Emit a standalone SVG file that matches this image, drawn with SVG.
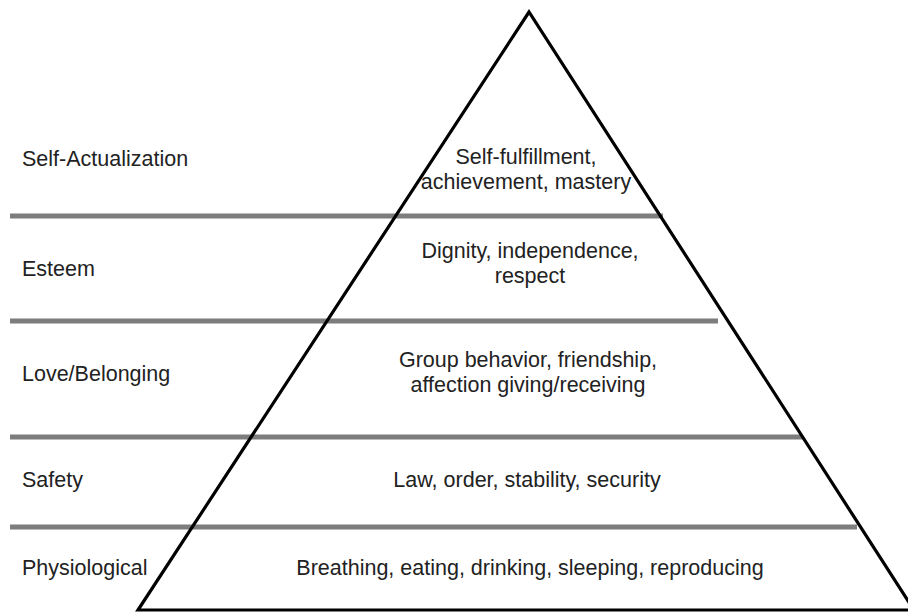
<svg xmlns="http://www.w3.org/2000/svg" width="908" height="613" viewBox="0 0 908 613">
  <style>
    .lbl { font-family: "Liberation Sans", Arial, sans-serif; font-size: 21.5px; fill: #222; }
    .ctr { font-family: "Liberation Sans", Arial, sans-serif; font-size: 21.5px; fill: #222; text-anchor: middle; }
    .div { stroke: #7d7d7d; stroke-width: 5; fill: none; }
  </style>
  <rect x="0" y="0" width="908" height="613" fill="#ffffff"/>
  <g id="dividers">
    <line class="div" x1="10" y1="216" x2="663" y2="216"/>
    <line class="div" x1="10" y1="321" x2="718" y2="321"/>
    <line class="div" x1="10" y1="437" x2="803" y2="437"/>
    <line class="div" x1="10" y1="527" x2="857" y2="527"/>
  </g>
  <g id="pyramid">
    <polygon points="529,12 138,610 914,610" fill="none" stroke="#000" stroke-width="3.2" stroke-linejoin="miter"/>
  </g>
  <g id="self-actualization">
    <text class="lbl" x="22" y="166">Self-Actualization</text>
    <text class="ctr" x="526" y="164">Self-fulfillment,</text>
    <text class="ctr" x="526" y="189">achievement, mastery</text>
  </g>
  <g id="esteem">
    <text class="lbl" x="22" y="276">Esteem</text>
    <text class="ctr" x="530" y="258">Dignity, independence,</text>
    <text class="ctr" x="530" y="283">respect</text>
  </g>
  <g id="love-belonging">
    <text class="lbl" x="22" y="381">Love/Belonging</text>
    <text class="ctr" x="528" y="367">Group behavior, friendship,</text>
    <text class="ctr" x="528" y="392">affection giving/receiving</text>
  </g>
  <g id="safety">
    <text class="lbl" x="22" y="487">Safety</text>
    <text class="ctr" x="527" y="487">Law, order, stability, security</text>
  </g>
  <g id="physiological">
    <text class="lbl" x="22" y="575">Physiological</text>
    <text class="ctr" x="530" y="575">Breathing, eating, drinking, sleeping, reproducing</text>
  </g>
</svg>
